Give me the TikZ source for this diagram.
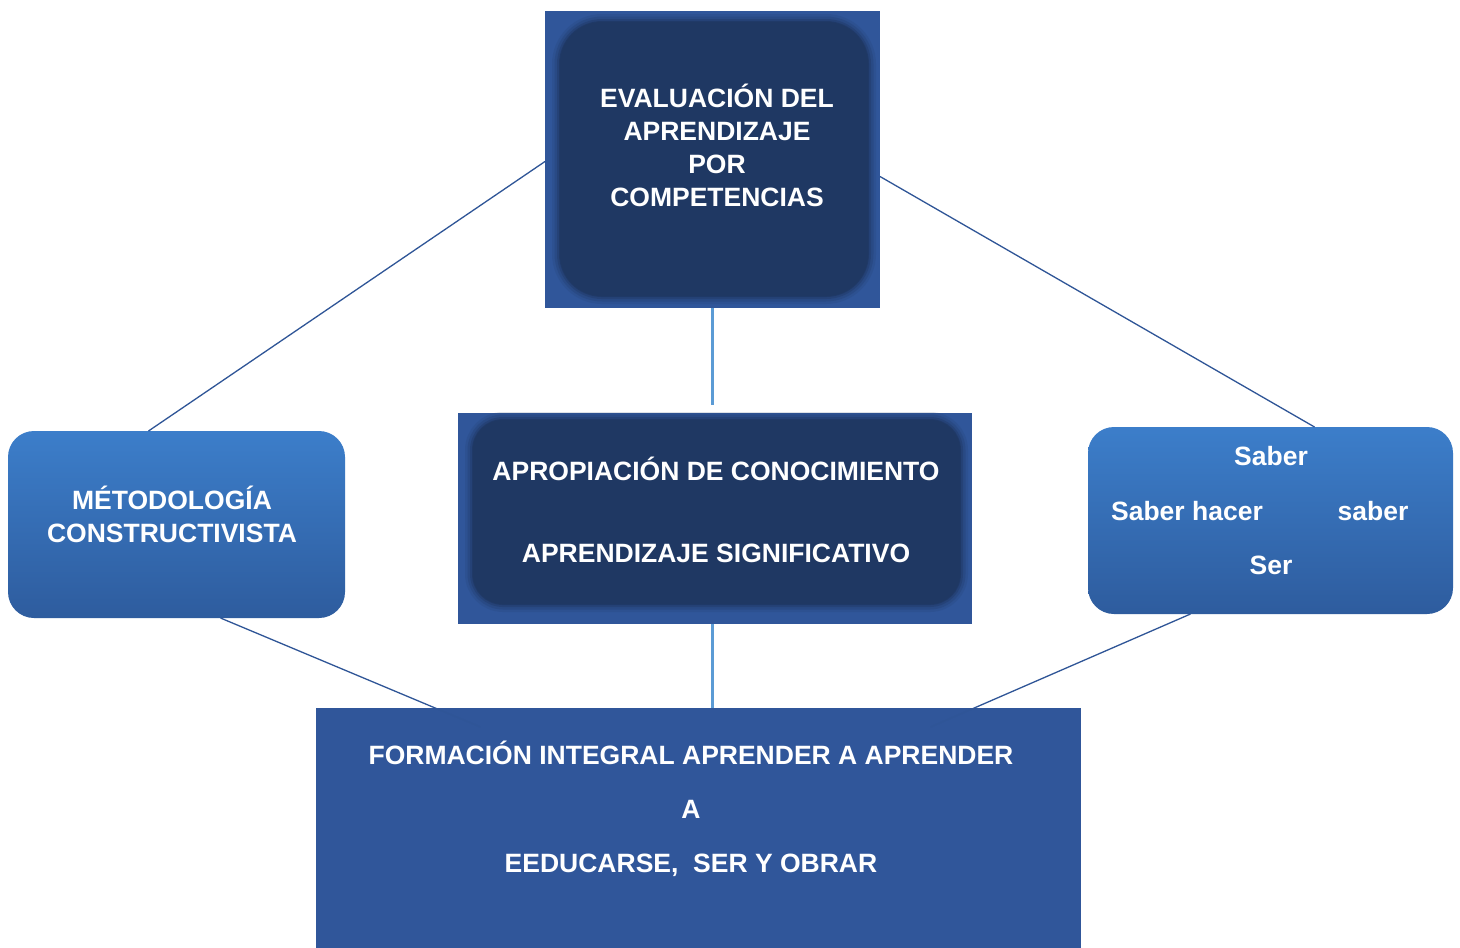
\documentclass[tikz,border=0pt]{standalone}
\usepackage{fontspec}
\setmainfont{Liberation Sans}
\usepackage{tikz}
\usetikzlibrary{calc}

\definecolor{boxblue}{RGB}{48,86,154}
\definecolor{darkblue}{RGB}{31,56,99}
\definecolor{linkblue}{RGB}{47,85,151}
\definecolor{paleblue}{RGB}{91,155,213}
\definecolor{sidetop}{RGB}{60,126,202}
\definecolor{sidebot}{RGB}{46,92,158}

\tikzset{
  outerbox/.style={rectangle, fill=boxblue, inner sep=0pt, outer sep=0pt},
  sidebox/.style={rectangle, rounded corners=26pt, top color=sidetop, bottom color=sidebot, inner sep=0pt, outer sep=0pt},
  thinlink/.style={draw=linkblue, line width=1.3pt},
  thicklink/.style={draw=paleblue, line width=3pt},
  labeltext/.style={text=white, font=\bfseries\fontsize{26.5}{33}\selectfont, align=center, inner sep=0pt}
}

% soft-edged dark panel inside a box
\newcommand{\darkpanel}[3]{%
  \foreach \w/\o in {16/0.15,11/0.25,6/0.4,2/0.7}
    \draw[draw=darkblue, line width=\w pt, opacity=\o, rounded corners=#3] #1 rectangle #2;
  \fill[darkblue, rounded corners=#3] #1 rectangle #2;
}

\begin{document}
\begin{tikzpicture}[x=1pt, y=-1pt]
  \useasboundingbox[fill=white] (0,0) rectangle (1460,948);

  % boxes
  \node[outerbox, minimum width=335pt, minimum height=297pt] (eval) at (712.5,159.5) {};
  \node[outerbox, minimum width=514pt, minimum height=211pt] (apro) at (715,518.5) {};
  \node[sidebox, minimum width=337pt, minimum height=187pt] (metodo) at (176.5,524.5) {};
  \node[sidebox, minimum width=365pt, minimum height=187pt] (saber) at (1270.5,520.5) {};
  \node[outerbox, minimum width=765pt, minimum height=240pt] (forma) at (698.5,828) {};

  \darkpanel{(560,22)}{(868,296)}{42pt}
  \darkpanel{(473,420)}{(960,604)}{30pt}

  % connectors
  \draw[thinlink] ([yshift=-2pt]eval.west) -- ([xshift=-28pt]metodo.north);
  \draw[thinlink] ([yshift=-17pt]eval.east) -- ([xshift=44pt]saber.north);
  \draw[thicklink] (eval.south) -- ([yshift=8pt]eval.south |- apro.north);
  \draw[thicklink] (eval.south |- apro.south) -- (eval.south |- forma.north);
  \draw[thinlink] ([xshift=44pt]metodo.south) -- ([xshift=-218pt,yshift=-19pt]forma.north);
  \draw[thinlink] ([xshift=-80pt]saber.south) -- ([xshift=232pt,yshift=-19pt]forma.north);

  % texts
  \node[labeltext] (evaltxt) at (717,145) {EVALUACIÓN DEL\\APRENDIZAJE\\POR\\COMPETENCIAS};
  \node[labeltext] (aprotxt) at (716,510) {APROPIACIÓN DE CONOCIMIENTO\\[49pt]APRENDIZAJE SIGNIFICATIVO};
  \node[labeltext] (metodotxt) at (172,514) {MÉTODOLOGÍA\\CONSTRUCTIVISTA};
  \node[labeltext] (s1) at (1271,456) {Saber};
  \node[labeltext] (s2) at (1187,511) {Saber hacer};
  \node[labeltext] (s3) at (1373,511) {saber};
  \node[labeltext] (s4) at (1271,565) {Ser};
  \node[labeltext, font=\bfseries\fontsize{26.5}{54}\selectfont] (formatxt) at (691,809) {FORMACIÓN INTEGRAL APRENDER A APRENDER\\A\\EEDUCARSE,\ \ SER Y OBRAR};
\end{tikzpicture}
\end{document}
